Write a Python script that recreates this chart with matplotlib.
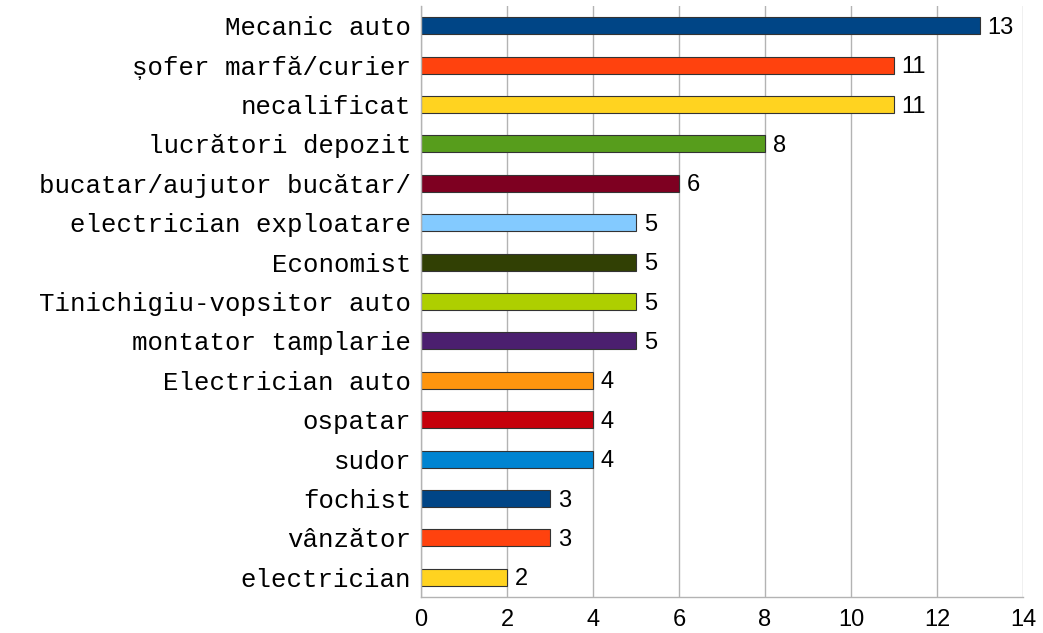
import matplotlib
matplotlib.use("Agg")
import matplotlib.pyplot as plt

categories = ["Mecanic auto", "șofer marfă/curier", "necalificat", "lucrători depozit",
              "bucatar/aujutor bucătar/", "electrician exploatare", "Economist",
              "Tinichigiu-vopsitor auto", "montator tamplarie", "Electrician auto",
              "ospatar", "sudor", "fochist", "vânzător", "electrician"]
values = [13, 11, 11, 8, 6, 5, 5, 5, 5, 4, 4, 4, 3, 3, 2]
colors = ["#004586", "#ff420e", "#ffd320", "#579d1c", "#7e0021", "#83caff", "#314004",
          "#aecf00", "#4b1f6f", "#ff950e", "#c5000b", "#0084d1", "#004586", "#ff420e",
          "#ffd320"]
xticks = [0, 2, 4, 6, 8, 10, 12, 14]

fig = plt.figure(figsize=(10.43, 6.33), dpi=100)
ax = fig.add_axes([421/1043, 1 - 597/633, (1023-421)/1043, (597-6)/633])

n = len(categories)
ypos = list(range(n))
ax.barh(ypos, values, height=0.43, color=colors, edgecolor="#333333", linewidth=0.8, zorder=3)
ax.set_ylim(n - 0.5, -0.5)
ax.set_xlim(0, 14)
ax.set_xticks(xticks)
ax.set_xticklabels([str(t) for t in xticks], fontfamily="Liberation Sans", fontsize=17)
ax.set_yticks(ypos)
ax.set_yticklabels(categories, fontfamily="Liberation Mono", fontsize=18.5)
ax.tick_params(axis="both", length=0)
ax.tick_params(axis="y", pad=7)
ax.tick_params(axis="x", pad=9)
ax.grid(axis="x", color="#b3b3b3", linewidth=1, zorder=0)
for s in ["top", "right"]:
    ax.spines[s].set_visible(False)
for s in ["left", "bottom"]:
    ax.spines[s].set_color("#b3b3b3")
    ax.spines[s].set_linewidth(1)
    ax.spines[s].set_zorder(4)

for y, v in zip(ypos, values):
    ax.annotate(str(v), (v, y), xytext=(5.5, -1.5), textcoords="offset points",
                va="center", ha="left", fontfamily="Liberation Sans", fontsize=17,
                color="black")

fig.savefig("out.png", dpi=100)
